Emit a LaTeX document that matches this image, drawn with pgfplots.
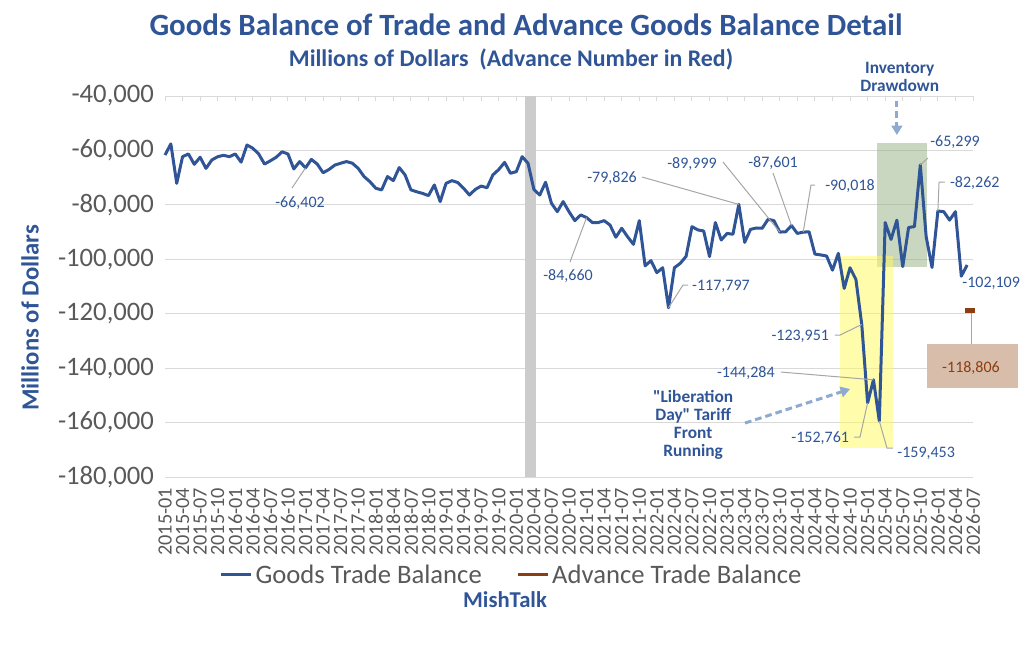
\documentclass[border=0pt]{standalone}
\usepackage{fontspec}
\setmainfont{Carlito}
\usepackage{pgfplots}
\usepackage{pgfplotstable}
\pgfplotsset{compat=1.18}
\usetikzlibrary{arrows.meta}
\definecolor{tblue}{RGB}{47,85,151}
\definecolor{tbrown}{RGB}{140,62,18}
\definecolor{tgray}{RGB}{89,89,89}
\definecolor{gridc}{RGB}{217,217,217}
\definecolor{leader}{RGB}{166,166,166}
\definecolor{arrowc}{RGB}{143,170,210}
\definecolor{barc}{RGB}{204,204,204}
\definecolor{boxbrown}{RGB}{216,189,170}
\definecolor{yel}{RGB}{255,250,90}
\definecolor{grn}{RGB}{150,176,130}
\tikzset{
  lbl/.style={font=\fontsize{12}{14}\selectfont, text=tblue, inner sep=1pt},
  ldr/.style={draw=leader, line width=0.75pt},
  anno/.style={font=\bfseries\fontsize{13}{13.5}\selectfont, text=tblue, align=center},
}

\pgfplotstableread{
i v
0 -61700
1 -57600
2 -72100
3 -62300
4 -61300
5 -65100
6 -62500
7 -66600
8 -63500
9 -62300
10 -61800
11 -62300
12 -61300
13 -64300
14 -58000
15 -59200
16 -61300
17 -65000
18 -63800
19 -62500
20 -60500
21 -61300
22 -66800
23 -64100
24 -66402
25 -63300
26 -65000
27 -68200
28 -67000
29 -65400
30 -64700
31 -64100
32 -64700
33 -66600
34 -69600
35 -71500
36 -73900
37 -74500
38 -69600
39 -71100
40 -66300
41 -69000
42 -74500
43 -75200
44 -75800
45 -76600
46 -72700
47 -78800
48 -72100
49 -71100
50 -71800
51 -73900
52 -76400
53 -74300
54 -73100
55 -73700
56 -69000
57 -67000
58 -64400
59 -68400
60 -67800
61 -62300
62 -64700
63 -74300
64 -76400
65 -71700
66 -79400
67 -82500
68 -78800
69 -82500
70 -85800
71 -83700
72 -84660
73 -86500
74 -86500
75 -85800
76 -87400
77 -91900
78 -88600
79 -91700
80 -94500
81 -85800
82 -102400
83 -100500
84 -104900
85 -103100
86 -117797
87 -103100
88 -101500
89 -98900
90 -88000
91 -89200
92 -89600
93 -99000
94 -86500
95 -92900
96 -90500
97 -90800
98 -79826
99 -93800
100 -89000
101 -88500
102 -88600
103 -85300
104 -85800
105 -89999
106 -89900
107 -87601
108 -90500
109 -90018
110 -89900
111 -98100
112 -98400
113 -98800
114 -104000
115 -97800
116 -110700
117 -103100
118 -107400
119 -123951
120 -152761
121 -144284
122 -159453
123 -86500
124 -92700
125 -85600
126 -102700
127 -88300
128 -88000
129 -65299
130 -91700
131 -103000
132 -82262
133 -82500
134 -85600
135 -82500
136 -106200
137 -102109
}\goods

\begin{document}
\begin{tikzpicture}
\useasboundingbox (0,0) rectangle (768pt,488.25pt);
\begin{axis}[
  at={(123.75pt,130.5pt)}, anchor=south west,
  scale only axis, width=606pt, height=285.75pt,
  xmin=0, xmax=138, ymin=-180000, ymax=-40000,
  clip=false,
  axis line style={draw=none},
  scaled y ticks=false,
  ytick={-180000,-160000,-140000,-120000,-100000,-80000,-60000,-40000},
  yticklabels={{-180,000},{-160,000},{-140,000},{-120,000},{-100,000},{-80,000},{-60,000},{-40,000}},
  ymajorgrids, grid style={gridc, line width=0.75pt},
  ytick style={draw=none},
  yticklabel style={font=\fontsize{20}{24}\selectfont, text=tgray, xshift=-4.75pt},
  xtick={0,3,...,138},
  xticklabels={2015-01,2015-04,2015-07,2015-10,2016-01,2016-04,2016-07,2016-10,2017-01,2017-04,2017-07,2017-10,2018-01,2018-04,2018-07,2018-10,2019-01,2019-04,2019-07,2019-10,2020-01,2020-04,2020-07,2020-10,2021-01,2021-04,2021-07,2021-10,2022-01,2022-04,2022-07,2022-10,2023-01,2023-04,2023-07,2023-10,2024-01,2024-04,2024-07,2024-10,2025-01,2025-04,2025-07,2025-10,2026-01,2026-04,2026-07},
  xtick pos=top, xticklabel pos=bottom,
  tick align=inside, major tick length=3.75pt,
  xtick style={gridc, line width=0.75pt},
  xticklabel style={rotate=90, anchor=east, xshift=-4.7pt, font=\fontsize{15.2}{16}\selectfont, text=tgray},
  legend style={at={(0.4295,-0.257)}, anchor=center, draw=none, fill=none,
    legend columns=2, font=\fontsize{20}{24}\selectfont, text=tgray,
    /tikz/every even column/.append style={column sep=24pt}},
  legend image code/.code={\draw[#1] (0pt,0pt) -- (22.5pt,0pt);},
]
% background highlights
\fill[barc] (axis cs:61.5,-180000) rectangle (axis cs:63.4,-40000);
\fill[grn, fill opacity=0.5] (axis cs:121.6,-57273) rectangle (axis cs:130.1,-102843);
\fill[yel, fill opacity=0.5] (axis cs:115.3,-98800) rectangle (axis cs:124.3,-169360);
\fill[boxbrown] (axis cs:130.1,-131140) rectangle (axis cs:145.7,-147310);

\addplot[tblue, line width=2.25pt, line join=round] table[x=i,y=v]{\goods};
\addlegendentry{Goods Trade Balance}
\addlegendimage{tbrown, line width=2.25pt}
\addlegendentry{Advance Trade Balance}
\addplot[tbrown, mark=-, mark size=4pt, mark options={line width=3.5pt}, forget plot] coordinates {(137.5,-118806)};

% leader lines
\draw[ldr] (axis cs:21.69,-73810) -- (axis cs:24,-66402);
\draw[ldr] (axis cs:69.17,-101005) -- (axis cs:72,-84660);
\draw[ldr] (axis cs:89.33,-109458) -- (axis cs:88.47,-109458) -- (axis cs:86,-117797);
\draw[ldr] (axis cs:81.47,-69768) -- (axis cs:98,-79826);
\draw[ldr] (axis cs:95.3,-64255) -- (axis cs:105,-89999);
\draw[ldr] (axis cs:103.84,-68298) -- (axis cs:107,-87601);
\draw[ldr] (axis cs:111.0,-72708) -- (axis cs:110.33,-72708) -- (axis cs:109,-90018);
\draw[ldr] (axis cs:130.3,-62785) -- (axis cs:129,-65299);
\draw[ldr] (axis cs:133.2,-71605) -- (axis cs:132.2,-71605) -- (axis cs:132,-82262);
\draw[ldr] (axis cs:114.4,-127833) -- (axis cs:115.3,-127833) -- (axis cs:119,-123951);
\draw[ldr] (axis cs:105.2,-141430) -- (axis cs:121,-144284);
\draw[ldr] (axis cs:117.7,-165318) -- (axis cs:118.7,-165318) -- (axis cs:120,-152761);
\draw[ldr] (axis cs:124.3,-169360) -- (axis cs:123.3,-169360) -- (axis cs:122,-159453);
\draw[ldr] (axis cs:137.66,-119600) -- (axis cs:137.66,-131140);

% data labels
\node[lbl] at (axis cs:23.06,-79323) {-66,402};
\node[lbl] at (axis cs:68.83,-106150) {-84,660};
\node[lbl] at (axis cs:94.96,-109825) {-117,797};
\node[lbl] at (axis cs:76.35,-70135) {-79,826};
\node[lbl] at (axis cs:90.01,-64990) {-89,999};
\node[lbl] at (axis cs:103.84,-64623) {-87,601};
\node[lbl] at (axis cs:117.0,-73075) {-90,018};
\node[lbl] at (axis cs:134.93,-56905) {-65,299};
\node[lbl] at (axis cs:138.3,-71973) {-82,262};
\node[lbl] at (axis cs:141.1,-108723) {-102,109};
\node[lbl] at (axis cs:108.5,-128200) {-123,951};
\node[lbl] at (axis cs:99.2,-141798) {-144,284};
\node[lbl] at (axis cs:111.9,-165685) {-152,761};
\node[lbl] at (axis cs:130.0,-171198) {-159,453};
\node[lbl, text=tbrown] at (axis cs:137.66,-139960) {-118,806};

% annotations
\node[anno] at (axis cs:125.5,-32834) {Inventory\\Drawdown};
\draw[arrowc, line width=2.25pt, dash pattern=on 5pt off 3pt, -{Triangle[length=7pt,width=8pt]}] (axis cs:125.0,-41727) -- (axis cs:125.0,-54333);
\node[anno] at (axis cs:90.2,-160908) {\textquotedbl Liberation\\Day\textquotedbl{} Tariff\\Front\\Running};
\draw[arrowc, line width=2.25pt, dash pattern=on 5pt off 3pt, -{Triangle[length=7pt,width=8pt]}] (axis cs:99.06,-160173) -- (axis cs:117,-147678);
\end{axis}
\node[font=\bfseries\fontsize{23.2}{27}\selectfont, text=tblue] at (394.5pt,469.5pt) {Goods Balance of Trade and Advance Goods Balance Detail};
\node[font=\bfseries\fontsize{17.9}{21}\selectfont, text=tblue] at (383.25pt,444pt) {Millions of Dollars\ \ (Advance Number in Red)};
\node[rotate=90, font=\bfseries\fontsize{18.5}{21}\selectfont, text=tblue] at (22.5pt,249.75pt) {Millions of Dollars};
\node[font=\bfseries\fontsize{17}{20}\selectfont, text=tblue] at (378.75pt,38.25pt) {MishTalk};
\end{tikzpicture}
\end{document}
